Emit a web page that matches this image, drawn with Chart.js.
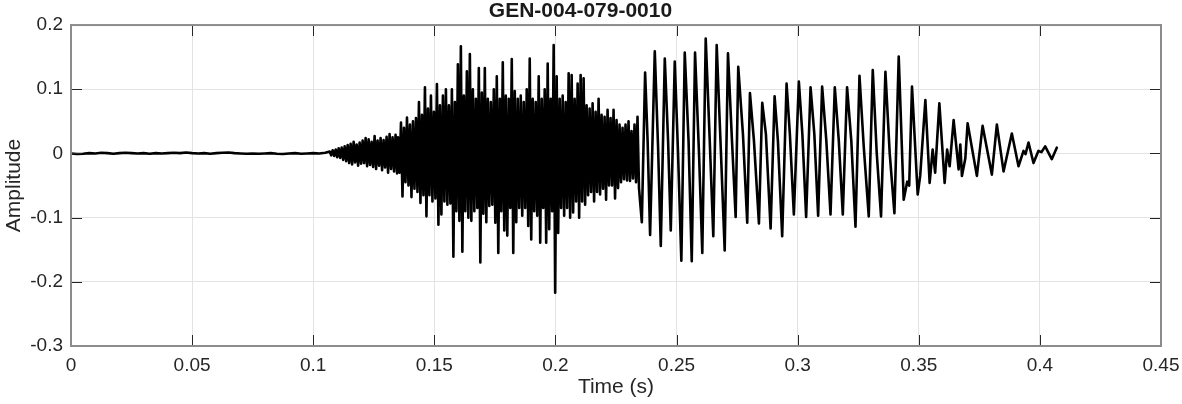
<!DOCTYPE html>
<html lang="en">
<head>
  <meta charset="UTF-8" />
  <title>GEN-004-079-0010</title>
  <style>
    html, body { margin: 0; padding: 0; background: #fff; }
    .wrap { width: 1182px; height: 404px; }
  </style>
</head>
<body>
  <div class="wrap"><canvas id="wave"></canvas></div>

  <script src="https://cdn.jsdelivr.net/npm/chart.js"></script>
  <script>
    // tick labels
    const xTickLabels = ['0', '0.05', '0.1', '0.15', '0.2', '0.25', '0.3', '0.35', '0.4', '0.45'];
    const yTickLabels = ['-0.3', '-0.2', '-0.1', '0', '0.1', '0.2'];

    // silence before the word (one value every 2.5 ms)
    const silenceStart = 0;
    const silenceStep = 0.0025;
    const silenceVals = [0, -0.001, -0.0005, 0.0005, 0, 0.001, 0.0005, -0.0005, 0.0005, 0.001,
      0.0005, 0, 0.0005, -0.0005, 0.0005, 0, 0.0005, 0.001, 0.0005, 0.0015,
      0.0005, 0, 0.0005, -0.0005, 0.0005, 0.001, 0.0015, 0.0005, 0, -0.0005,
      0, -0.0005, 0, 0.0005, -0.0005, -0.001, 0, 0.0005, -0.0005, 0,
      0.0005, 0, 0.001];

    // onset of the fricative, read as max / min pairs
    const onsetStart = 0.1068;
    const onsetStep = 0.000618;
    const onsetVals = [0.003, -0.003, 0.005, -0.004, 0.006, -0.006, 0.008, -0.007, 0.009, -0.01,
      0.011, -0.012, 0.013, -0.015, 0.015, -0.017, 0.018, -0.014, 0.014, -0.019,
      0.017, -0.016, 0.02, -0.015, 0.024, -0.02, 0.022, -0.018, 0.018, -0.021,
      0.027, -0.024, 0.02, -0.019, 0.024, -0.026, 0.021, -0.022, 0.026, -0.03,
      0.03, -0.024, 0.025, -0.028, 0.029, -0.031];

    // noisy part, max / min pairs
    const noiseStart = 0.135;
    const noiseStep = 0.000618;
    const noiseVals = [
      0.025, -0.03, 0.048, -0.067, 0.04, -0.045, 0.056, -0.05, 0.045, -0.068,
      0.05, -0.055, 0.055, -0.06, 0.08, -0.077, 0.06, -0.065, 0.103, -0.098,
      0.07, -0.065, 0.09, -0.075, 0.065, -0.07, 0.108, -0.111, 0.075, -0.095,
      0.09, -0.075, 0.10, -0.08, 0.075, -0.078, 0.10, -0.161, 0.08, -0.09,
      0.139, -0.105, 0.167, -0.153, 0.09, -0.09, 0.128, -0.10, 0.155, -0.105,
      0.10, -0.09, 0.085, -0.085, 0.133, -0.17, 0.095, -0.094, 0.133, -0.107,
      0.085, -0.082, 0.08, -0.08, 0.10, -0.108, 0.12, -0.155, 0.085, -0.09,
      0.142, -0.12, 0.09, -0.128, 0.085, -0.085, 0.147, -0.155, 0.097, -0.107,
      0.085, -0.085, 0.09, -0.097, 0.08, -0.085, 0.10, -0.113, 0.148, -0.134,
      0.085, -0.09, 0.08, -0.097, 0.12, -0.139, 0.085, -0.085, 0.10, -0.139,
      0.14, -0.118, 0.085, -0.09, 0.169, -0.217, 0.12, -0.124, 0.085, -0.085,
      0.09, -0.097, 0.08, -0.085, 0.125, -0.10, 0.122, -0.092, 0.085, -0.075,
      0.109, -0.10, 0.122, -0.075, 0.117, -0.08, 0.075, -0.065, 0.07, -0.06,
      0.078, -0.075, 0.065, -0.06, 0.085, -0.064, 0.06, -0.055, 0.057, -0.072,
      0.068, -0.05, 0.055, -0.05, 0.068, -0.07, 0.052, -0.054, 0.045, -0.045,
      0.04, -0.04, 0.045, -0.042, 0.05, -0.043, 0.035, -0.039, 0.045, -0.045,
      0.057, -0.054];

    // voiced part: peaks, troughs and shoulders
    const voicedTimes = [
      0.23566, 0.23702, 0.23805, 0.23908, 0.24101, 0.24237, 0.24349, 0.24514, 0.24650, 0.24761,
      0.24926, 0.25062, 0.25198, 0.25338, 0.25495, 0.25627, 0.25763, 0.25927, 0.26063, 0.26204,
      0.26360, 0.26517, 0.26657, 0.26834, 0.26987, 0.27123, 0.27288, 0.27440, 0.27547, 0.27741,
      0.27918, 0.28030, 0.28195, 0.28401, 0.28537, 0.28689, 0.28883, 0.29048, 0.29184, 0.29361,
      0.29542, 0.29678, 0.29843, 0.30049, 0.30194, 0.30350, 0.30532, 0.30688, 0.30845, 0.31010,
      0.31183, 0.31356, 0.31533, 0.31698, 0.31863, 0.32040, 0.32214, 0.32387, 0.32552, 0.32729,
      0.32935, 0.33100, 0.33265, 0.33442, 0.33623, 0.33800, 0.33994, 0.34172, 0.34377, 0.34522,
      0.34605, 0.34720, 0.34955, 0.35058, 0.35272, 0.35449, 0.35573, 0.35676, 0.35849, 0.36068,
      0.36171, 0.36274, 0.36439, 0.36645, 0.36715, 0.36781, 0.36921, 0.37016, 0.37399, 0.37634,
      0.38017, 0.38223, 0.38500, 0.38842, 0.39118, 0.39324, 0.39406, 0.39530, 0.39736, 0.39942,
      0.40066, 0.40218, 0.40490, 0.40697];
    const voicedVals = [
      -0.107, 0.126, 0.02, -0.127, 0.159, 0.01, -0.144, 0.148, 0.02, -0.120,
      0.143, 0.0, -0.167, 0.157, 0.02, -0.168, 0.157, 0.0, -0.155, 0.179,
      0.03, -0.129, 0.169, 0.0, -0.151, 0.156, 0.02, -0.099, 0.135, 0.03,
      -0.108, 0.094, 0.02, -0.109, 0.079, 0.03, -0.117, 0.089, 0.02, -0.129,
      0.109, 0.03, -0.095, 0.112, 0.03, -0.099, 0.103, 0.03, -0.097, 0.104,
      0.02, -0.095, 0.103, 0.02, -0.095, 0.103, 0.02, -0.114, 0.121, 0.01,
      -0.098, 0.130, 0.0, -0.098, 0.127, 0.0, -0.093, 0.151, -0.072, -0.044,
      -0.05, 0.104, -0.064, -0.035, 0.083, -0.046, 0.006, -0.03, 0.078, -0.046,
      0.006, -0.02, 0.052, -0.025, 0.014, -0.035, -0.008, 0.047, -0.035, 0.043,
      -0.033, 0.045, -0.028, 0.031, -0.020, 0.004, -0.001, 0.017, -0.015, 0.004,
      0.002, 0.011, -0.009, 0.009];

    const points = [];
    silenceVals.forEach((v, i) => points.push({ x: silenceStart + i * silenceStep, y: v }));
    onsetVals.forEach((v, i) => points.push({ x: onsetStart + i * onsetStep, y: v }));
    noiseVals.forEach((v, i) => points.push({ x: noiseStart + i * noiseStep, y: v }));
    voicedTimes.forEach((t, i) => points.push({ x: t, y: voicedVals[i] }));

    const FONT = "'Liberation Sans', Arial, Helvetica, sans-serif";

    // matlab-style box with inward ticks on all sides
    const boxPlugin = {
      id: 'box',
      afterDatasetsDraw(chart) {
        const { ctx, chartArea: a, scales: { x, y } } = chart;
        const len = 11;
        ctx.save();
        ctx.strokeStyle = '#262626';
        ctx.lineWidth = 1;
        ctx.beginPath();
        x.ticks.forEach(t => {
          const px = Math.round(x.getPixelForValue(t.value)) + 0.5;
          ctx.moveTo(px, a.bottom); ctx.lineTo(px, a.bottom - len);
          ctx.moveTo(px, a.top); ctx.lineTo(px, a.top + len);
        });
        y.ticks.forEach(t => {
          const py = Math.round(y.getPixelForValue(t.value)) + 0.5;
          ctx.moveTo(a.left, py); ctx.lineTo(a.left + len, py);
          ctx.moveTo(a.right, py); ctx.lineTo(a.right - len, py);
        });
        ctx.stroke();
        ctx.strokeStyle = '#8c8c8c';
        ctx.lineWidth = 2;
        ctx.strokeRect(a.left, a.top, a.right - a.left, a.bottom - a.top);
        ctx.restore();
      }
    };

    new Chart(document.getElementById('wave').getContext('2d'), {
      type: 'line',
      data: {
        datasets: [{
          data: points,
          borderColor: '#000',
          borderWidth: 2.6,
          borderJoinStyle: 'round',
          borderCapStyle: 'round',
          pointRadius: 0,
          tension: 0,
          fill: false
        }]
      },
      options: {
        responsive: true,
        maintainAspectRatio: false,
        animation: false,
        events: [],
        layout: { padding: { top: 0, left: 0, right: 21, bottom: 0 } },
        plugins: {
          legend: { display: false },
          tooltip: { enabled: false },
          title: {
            display: true,
            text: 'GEN-004-079-0010',
            color: '#1a1a1a',
            font: { family: FONT, size: 21, weight: 'bold', lineHeight: 1.05 },
            padding: { top: 0, bottom: 3 }
          }
        },
        scales: {
          x: {
            type: 'linear',
            min: 0,
            max: 0.45,
            afterFit: s => { s.height = 58; s.paddingLeft = 0; s.paddingRight = 0; },
            ticks: {
              stepSize: 0.05,
              padding: 8,
              maxRotation: 0,
              color: '#262626',
              font: { family: FONT, size: 19 },
              callback: (v, i) => xTickLabels[i]
            },
            grid: { color: '#e3e3e3', lineWidth: 1, drawTicks: false },
            border: { display: false },
            title: {
              display: true,
              text: 'Time (s)',
              color: '#262626',
              font: { family: FONT, size: 21 },
              padding: { top: 0, bottom: 4 }
            }
          },
          y: {
            type: 'linear',
            min: -0.3,
            max: 0.2,
            afterFit: s => { s.width = 71; s.paddingTop = 0; s.paddingBottom = 0; },
            ticks: {
              stepSize: 0.1,
              padding: 8,
              color: '#262626',
              font: { family: FONT, size: 19 },
              callback: (v, i) => yTickLabels[i]
            },
            grid: { color: '#e3e3e3', lineWidth: 1, drawTicks: false },
            border: { display: false },
            title: {
              display: true,
              text: 'Amplitude',
              color: '#262626',
              font: { family: FONT, size: 21 },
              padding: { top: 2, bottom: 0 }
            }
          }
        }
      },
      plugins: [boxPlugin]
    });
  </script>
</body>
</html>
